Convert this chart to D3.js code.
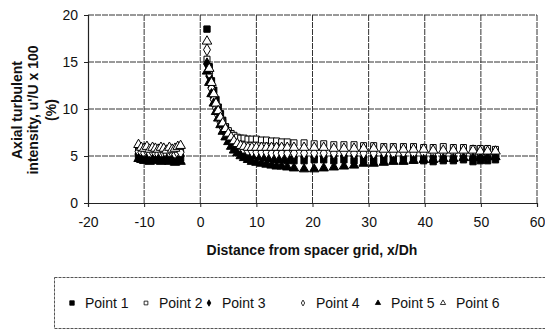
<!DOCTYPE html>
<html><head><meta charset="utf-8">
<script src="https://cdn.jsdelivr.net/npm/d3@7"></script>
<style>body{margin:0;background:#fff;}svg{font-family:Arial,"Liberation Sans",sans-serif;}</style>
</head><body>
<svg id="c" width="545" height="330"></svg>
<script>
const xValues = [-11,-10.5,-10,-9.5,-9,-8.5,-8,-7.5,-7,-6.5,-6,-5.5,-5,-4.5,-4,-3.5,
 1.2,1.6,2.0,2.4,2.8,3.2,3.6,4.0,4.5,5.0,5.5,6.0,6.6,7.2,7.8,8.5,9.2,10.0,10.9,11.8,12.7,13.6,14.5,15.5,16.7,18.5,20.3,22.0,23.8,25.6,27.4,29.1,30.9,32.7,34.4,36.2,38.0,39.8,41.5,43.3,45.1,46.9,48.6,49.9,51.2,52.6];
const point1 = [5.0,4.9,4.8,4.9,4.7,4.8,4.9,4.7,4.8,4.7,4.9,4.6,4.8,4.7,4.5,4.8,
 18.5,14.5,13.0,12.0,11.0,10.2,9.5,8.8,8.1,7.5,7.0,6.5,6.1,5.8,5.5,5.3,5.1,5.0,4.9,4.8,4.7,4.6,4.6,4.5,4.5,4.5,4.6,4.6,4.5,4.6,4.5,4.6,4.5,4.6,4.5,4.5,4.6,4.5,4.4,4.5,4.5,4.6,4.4,4.5,4.5,4.6];
const point2 = [5.8,5.6,5.7,5.5,5.6,5.7,5.5,5.6,5.4,5.6,5.5,5.7,5.4,5.6,5.5,5.7,
 15.3,14.0,12.5,11.3,10.5,9.7,9.1,8.6,8.1,7.7,7.4,7.2,7.0,6.9,6.9,6.8,6.8,6.8,6.7,6.7,6.6,6.6,6.5,6.5,6.4,6.4,6.3,6.3,6.2,6.2,6.2,6.1,6.1,6.0,6.0,6.0,6.0,5.9,5.9,6.0,5.9,5.9,5.8,5.8,5.8,5.7];
const point3 = [5.2,5.1,5.0,5.2,5.0,5.1,4.9,5.1,5.0,4.9,5.1,5.0,4.9,5.0,4.8,5.0,
 14.8,13.5,12.3,11.2,10.3,9.6,8.9,8.3,7.7,7.1,6.7,6.3,6.0,5.8,5.6,5.4,5.3,5.2,5.1,5.0,5.0,4.9,4.9,4.9,4.9,4.9,4.9,4.9,5.0,5.0,5.0,4.9,5.0,5.0,4.9,4.9,5.0,4.9,4.9,4.9,4.9,5.0,4.9,4.9,4.9,5.0];
const point4 = [5.5,5.4,5.3,5.5,5.2,5.4,5.3,5.2,5.4,5.3,5.2,5.4,5.3,5.1,5.3,5.4,
 16.3,13.8,12.2,11.0,10.1,9.3,8.6,8.0,7.4,6.9,6.5,6.2,5.9,5.7,5.6,5.5,5.5,5.4,5.4,5.4,5.3,5.3,5.3,5.3,5.3,5.3,5.3,5.3,5.3,5.4,5.3,5.3,5.3,5.4,5.3,5.4,5.3,5.3,5.4,5.3,5.4,5.3,5.3,5.3,5.2,5.3];
const point5 = [4.7,4.6,4.5,4.6,4.4,4.6,4.5,4.6,4.4,4.5,4.6,4.4,4.5,4.3,4.5,4.4,
 14.0,12.8,11.6,10.6,9.7,9.0,8.3,7.6,7.0,6.5,6.0,5.6,5.3,5.0,4.8,4.6,4.4,4.3,4.2,4.1,4.0,3.9,3.9,3.8,3.7,3.6,3.6,3.7,3.8,3.9,4.0,4.2,4.2,4.3,4.4,4.4,4.5,4.6,4.6,4.7,4.7,4.8,4.8,4.8,4.9,4.9];
const point6 = [6.2,5.9,5.8,6.0,5.7,5.9,5.8,5.7,5.9,5.8,5.6,5.9,5.7,5.8,6.0,6.1,
 17.2,14.3,12.8,11.6,10.6,9.8,9.1,8.5,7.9,7.4,7.0,6.6,6.3,6.1,6.0,5.9,5.9,5.9,5.9,5.9,5.9,5.9,5.9,5.9,5.9,5.9,5.9,5.9,5.8,5.8,5.8,5.8,5.8,5.7,5.7,5.7,5.7,5.7,5.6,5.6,5.6,5.6,5.6,5.5,5.5,5.5];
const seriesNames = ["Point 1","Point 2","Point 3","Point 4","Point 5","Point 6"];
const xTicks = [-20,-10,0,10,20,30,40,50,60];
const yTicks = [0,5,10,15,20];

const series = [
 {name:seriesNames[0], vals:point1, sym:d3.symbolSquare, fill:"#000"},
 {name:seriesNames[1], vals:point2, sym:d3.symbolSquare, fill:"#fff"},
 {name:seriesNames[2], vals:point3, sym:d3.symbolDiamond, fill:"#000"},
 {name:seriesNames[3], vals:point4, sym:d3.symbolDiamond, fill:"#fff"},
 {name:seriesNames[4], vals:point5, sym:d3.symbolTriangle, fill:"#000"},
 {name:seriesNames[5], vals:point6, sym:d3.symbolTriangle, fill:"#fff"}
];

const svg = d3.select("#c");
const x = d3.scaleLinear().domain([-20,60]).range([88,537]);
const y = d3.scaleLinear().domain([0,20]).range([203,15]);

// grid
const g = svg.append("g");
g.selectAll(".hg").data(yTicks.filter(d=>d>0)).enter().append("line")
 .attr("x1",x(-20)).attr("x2",x(60)).attr("y1",d=>y(d)).attr("y2",d=>y(d))
 .attr("stroke","#333").attr("stroke-width",1).attr("stroke-dasharray","6,1");
g.selectAll(".vg").data(xTicks.filter(d=>d>-20)).enter().append("line")
 .attr("x1",d=>x(d)).attr("x2",d=>x(d)).attr("y1",y(0)).attr("y2",y(20))
 .attr("stroke","#333").attr("stroke-width",1).attr("stroke-dasharray","6,1");

// axes
const fmt = d => String(d);
const xAxis = svg.append("g").attr("transform",`translate(0,${y(0)})`)
 .call(d3.axisBottom(x).tickValues(xTicks).tickFormat(fmt).tickSize(4).tickPadding(10));
const yAxis = svg.append("g").attr("transform",`translate(${x(-20)},0)`)
 .call(d3.axisLeft(y).tickValues(yTicks).tickFormat(fmt).tickSize(4).tickPadding(6));
[xAxis,yAxis].forEach(a=>{
 a.select(".domain").attr("stroke","#222").attr("stroke-width",1.2);
 a.selectAll(".tick line").attr("stroke","#222");
 a.selectAll("text").attr("font-size","14px").attr("fill","#111")
  .attr("font-family","Arial, 'Liberation Sans', sans-serif");
});

// markers
const sizeMap = {0:40,1:36,2:42,3:42,4:38,5:40};
series.forEach((s,i)=>{
 const sym = d3.symbol().type(s.sym).size(sizeMap[i]);
 svg.append("g").selectAll("path").data(s.vals.map((v,j)=>[xValues[j],v])).enter()
  .append("path").attr("d",sym)
  .attr("transform",d=>`translate(${x(d[0])},${y(d[1])})`)
  .attr("fill",s.fill).attr("stroke","#000").attr("stroke-width",1);
});

// titles
svg.append("text").attr("x",312).attr("y",255).attr("text-anchor","middle")
 .attr("font-weight","bold").attr("font-size","14px").attr("fill","#111")
 .text("Distance from spacer grid, x/Dh");
const yt = svg.append("text").attr("transform","translate(0,110) rotate(-90)")
 .attr("text-anchor","middle").attr("font-weight","bold").attr("font-size","14px").attr("fill","#111");
yt.append("tspan").attr("x",0).attr("y",22).text("Axial turbulent");
yt.append("tspan").attr("x",0).attr("y",38).text("intensity, u'/U x 100");
yt.append("tspan").attr("x",0).attr("y",56).text("(%)");

// legend
svg.append("rect").attr("x",54.5).attr("y",277.5).attr("width",500).attr("height",51)
 .attr("fill","none").attr("stroke","#555").attr("stroke-dasharray","3,1");
const legX = [72,146,209,303,378,443];
const legSize = [20,14,12,10,12,12];
series.forEach((s,i)=>{
 svg.append("path").attr("d",d3.symbol().type(s.sym).size(legSize[i])())
  .attr("transform",`translate(${legX[i]},303)`)
  .attr("fill",s.fill).attr("stroke","#000").attr("stroke-width",0.8);
 svg.append("text").attr("x",legX[i]+13).attr("y",308).attr("font-size","14px").attr("fill","#111")
  .text(s.name);
});
</script>
</body></html>
